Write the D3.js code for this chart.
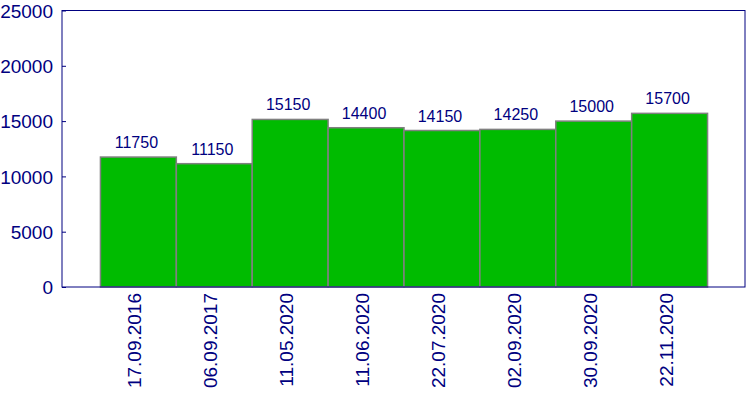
<!DOCTYPE html>
<html><head><meta charset="utf-8">
<script src="https://cdn.jsdelivr.net/npm/d3@7"></script>
<style>body{margin:0;background:#fff}svg{display:block}text{font-family:'Liberation Sans',Arial,sans-serif}</style>
</head><body>
<svg id="c" width="750" height="400"></svg>
<script>
const categories = ["17.09.2016","06.09.2017","11.05.2020","11.06.2020","22.07.2020","02.09.2020","30.09.2020","22.11.2020"];
const values = [11750,11150,15150,14400,14150,14250,15000,15700];
const yTicks = [0,5000,10000,15000,20000,25000];

const navy = "#000080";
const svg = d3.select("#c");
const m = {l:62, r:745, t:10.5, b:287};
const x = d3.scaleBand().domain(categories).range([m.l, m.r]).paddingInner(0).paddingOuter(0.5);
const y = d3.scaleLinear().domain([0,25000]).range([m.b, m.t]);

svg.append("g").selectAll("rect").data(values).join("rect")
  .attr("x",(d,i)=>x(categories[i])+0.5)
  .attr("y",d=>y(d))
  .attr("width",x.bandwidth())
  .attr("height",d=>m.b-y(d))
  .attr("fill","#00bb00").attr("stroke","#808080").attr("stroke-width",1.5);

svg.append("g").selectAll("text").data(values).join("text")
  .attr("x",(d,i)=>x(categories[i])+x.bandwidth()/2-1.5)
  .attr("y",d=>y(d)-9)
  .attr("text-anchor","middle")
  .attr("font-size",16)
  .attr("fill",navy).text(d=>d);

// frame
svg.append("rect").attr("x",m.l).attr("y",m.t).attr("width",m.r-m.l).attr("height",m.b-m.t)
  .attr("fill","none").attr("stroke",navy).attr("stroke-width",1);

// y axis
const ya = svg.append("g").attr("transform",`translate(${m.l},0)`)
  .call(d3.axisLeft(y).tickValues(yTicks).tickSizeInner(-4).tickSizeOuter(0).tickPadding(9).tickFormat(d3.format("d")));
ya.select(".domain").remove();
ya.selectAll("line").attr("stroke",navy);
ya.selectAll("text").attr("fill",navy).attr("font-size",19).attr("font-family",null).attr("dy","0.35em");

// x labels
svg.append("g").selectAll("text").data(categories).join("text")
  .attr("transform",d=>`translate(${x(d)+x.bandwidth()/2+3.5},${m.b+6}) rotate(-90)`)
  .attr("text-anchor","end")
  .attr("font-size",19)
  .attr("fill",navy).text(d=>d);
</script>
</body></html>
